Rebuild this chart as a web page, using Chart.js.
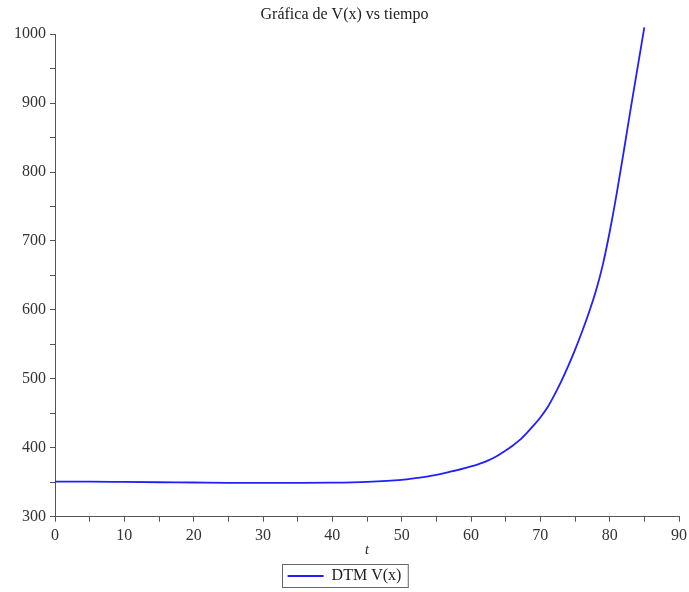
<!DOCTYPE html>
<html>
<head>
<meta charset="utf-8">
<script src="https://cdn.jsdelivr.net/npm/chart.js@4/dist/chart.umd.min.js"></script>
<style>
  html, body { margin: 0; padding: 0; background: #fff; }
  #wrap { width: 689px; height: 592px; }
</style>
</head>
<body>
<div id="wrap"><canvas id="chart"></canvas></div>
<script>
// values
const tValues = [0, 5, 10, 15, 20, 25, 30, 35, 40, 45, 50, 52, 54, 56, 58, 60, 61, 62, 63, 64, 65, 66, 67, 68, 69, 70,
  71, 72, 73, 74, 75, 76, 77, 78, 79, 80, 81, 82, 83, 84, 85];
const vValues = [351, 350.8, 350.4, 350, 349.6, 349.2, 349, 349, 349.3, 350.5, 353.5, 356, 359, 363, 367.5, 373, 376, 379.5, 384, 389.5, 396, 403, 411, 421, 432, 444,
  458, 476, 496, 518, 542, 568, 596, 627, 665, 713, 768, 828, 890, 950, 1010];
const xTicks = [0, 10, 20, 30, 40, 50, 60, 70, 80, 90];
const yTicks = [300, 400, 500, 600, 700, 800, 900, 1000];

const serif = "'Liberation Serif', 'DejaVu Serif', serif";
const axisColor = "#555";
const textColor = "#333";

// box around the legend, like the original plot
const legendBox = {
  id: "legendBox",
  afterDraw(chart) {
    const lg = chart.legend;
    if (!lg || !lg.legendHitBoxes.length) return;
    const hb = lg.legendHitBoxes[0];
    const cy = Math.round(hb.top + hb.height / 2);
    const ctx = chart.ctx;
    ctx.save();
    ctx.strokeStyle = "#666";
    ctx.lineWidth = 1;
    ctx.strokeRect(Math.round(hb.left) - 5.5, cy - 11.5, hb.width + 12, 23);
    ctx.restore();
  }
};

const ctx = document.getElementById("chart");
new Chart(ctx, {
  type: "line",
  data: {
    datasets: [
      {
        label: "DTM V(x)",
        data: tValues.map((t, i) => ({ x: t, y: vValues[i] })),
        borderColor: "#2020ff",
        backgroundColor: "#2020ff",
        borderWidth: 1.8,
        pointRadius: 0,
        cubicInterpolationMode: "monotone",
        clip: false,
      },
    ],
  },
  plugins: [legendBox],
  options: {
    responsive: true,
    maintainAspectRatio: false,
    animation: false,
    layout: { padding: { left: 10, right: 10, top: 0, bottom: -2 } },
    plugins: {
      title: {
        display: true,
        text: "Gráfica de V(x) vs tiempo",
        color: "#222",
        font: { family: serif, size: 16, weight: "normal" },
        padding: { top: 5, bottom: 10 },
      },
      legend: {
        position: "bottom",
        labels: {
          usePointStyle: true,
          pointStyle: "line",
          pointStyleWidth: 36,
          color: "#222",
          font: { family: serif, size: 16 },
          padding: 12.5,
        },
      },
      tooltip: { enabled: false },
    },
    scales: {
      x: {
        type: "linear",
        min: 0,
        max: 90,
        afterFit: (s) => { s.paddingRight = 0; },
        ticks: {
          stepSize: 5,
          color: textColor,
          font: { family: serif, size: 16, lineHeight: 0.75 },
          maxRotation: 0,
          padding: 8,
          callback: (v) => (xTicks.includes(v) ? String(v) : ""),
        },
        grid: {
          drawOnChartArea: false,
          drawTicks: true,
          tickLength: 5,
          color: axisColor,
        },
        border: { color: axisColor, width: 1 },
        title: {
          display: true,
          text: "t",
          color: "#222",
          font: { family: serif, size: 14, style: "italic", lineHeight: 0.7 },
          padding: { top: -4, bottom: 0 },
        },
      },
      y: {
        type: "linear",
        min: 300,
        max: 1000,
        ticks: {
          stepSize: 50,
          color: textColor,
          font: { family: serif, size: 16 },
          padding: 4,
          callback: (v) => (yTicks.includes(v) ? String(v) : ""),
        },
        grid: {
          drawOnChartArea: false,
          drawTicks: true,
          tickLength: 5,
          color: axisColor,
        },
        border: { color: axisColor, width: 1 },
      },
    },
  },
});
</script>
</body>
</html>
